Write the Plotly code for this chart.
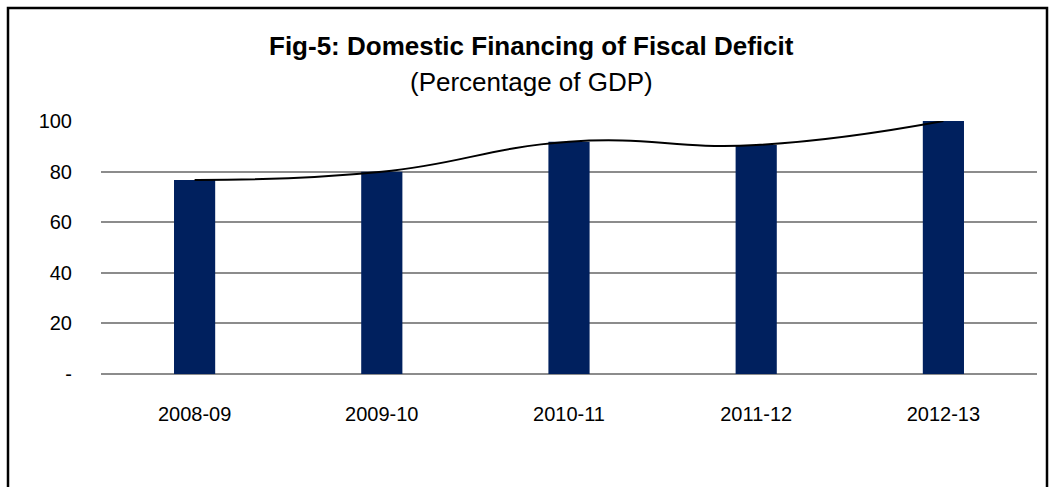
import plotly.graph_objects as go

years = ["2008-09", "2009-10", "2010-11", "2011-12", "2012-13"]
values = [76.7, 79.9, 91.8, 90.5, 100.0]
tick_vals = [0, 20, 40, 60, 80, 100]
tick_text = ["-", "20", "40", "60", "80", "100"]

W, H = 1050, 487
L, R, T, B = 101, 1037, 121, 374

fig = go.Figure()
fig.add_trace(go.Bar(x=years, y=values, marker_color="#00205E", width=0.22,
                     marker_line_width=0))
fig.add_trace(go.Scatter(x=years, y=values, mode="lines",
                         line=dict(color="black", width=2, shape="spline", smoothing=1.3),
                         cliponaxis=False))

def px_x(p):
    return (p - L) / (R - L)

def px_y(p):
    return (B - p) / (B - T)

fig.add_shape(type="rect", xref="paper", yref="paper",
              x0=px_x(8), x1=px_x(1047), y0=px_y(500), y1=px_y(8),
              line=dict(color="black", width=2.5), layer="above")

fig.add_annotation(text="<b>Fig-5: Domestic Financing of Fiscal Deficit</b>",
                   xref="paper", yref="paper", x=px_x(531), y=px_y(46),
                   xanchor="center", yanchor="middle",
                   showarrow=False, font=dict(family="Liberation Sans, Arial", size=26, color="black"))
fig.add_annotation(text="(Percentage of GDP)",
                   xref="paper", yref="paper", x=px_x(531), y=px_y(82),
                   xanchor="center", yanchor="middle",
                   showarrow=False, font=dict(family="Liberation Sans, Arial", size=26, color="black"))

fig.update_layout(
    width=W, height=H,
    margin=dict(l=L, r=W - R, t=T, b=H - B),
    paper_bgcolor="white", plot_bgcolor="white",
    showlegend=False,
    font=dict(family="Liberation Sans, Arial", size=20, color="black"),
)
fig.update_xaxes(type="category", showgrid=False, showline=False, ticks="",
                 ticklabelstandoff=26, tickfont=dict(size=20))
fig.update_yaxes(range=[0, 100], tickvals=tick_vals, ticktext=tick_text,
                 showgrid=True, gridcolor="#8c8c8c", gridwidth=1.5,
                 zeroline=True, zerolinecolor="#8c8c8c", zerolinewidth=1.5,
                 showline=False, ticks="", ticklabelstandoff=28,
                 tickfont=dict(size=20))

fig.write_html("out.html")
